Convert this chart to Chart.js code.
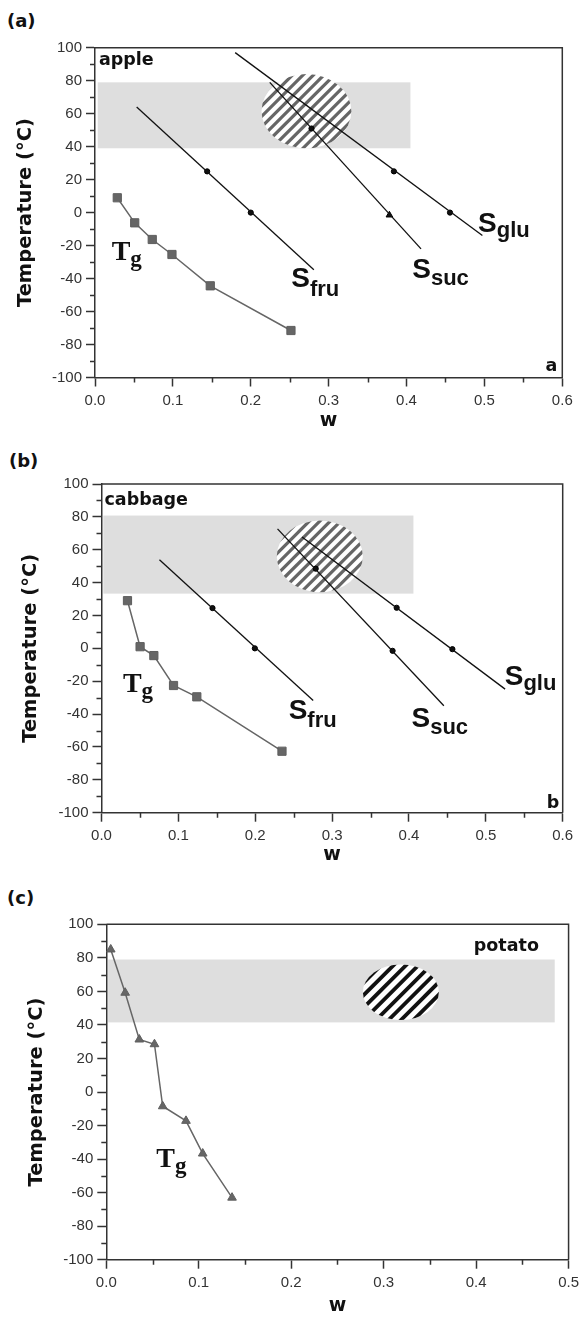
<!DOCTYPE html>
<html><head><meta charset="utf-8">
<script src="https://cdn.jsdelivr.net/npm/chart.js@4.4.1/dist/chart.umd.min.js"></script>
<style>
html,body{margin:0;padding:0;background:#fff;width:584px;height:1317px;overflow:hidden;position:relative;}
.panel{position:absolute;left:0;width:584px;}
.plabel{position:absolute;font:bold 18px "DejaVu Sans",sans-serif;line-height:18px;color:#111;}
</style></head><body>
<div class="plabel" style="left:7px;top:11.5px">(a)</div>
<div class="plabel" style="left:9px;top:451.5px">(b)</div>
<div class="plabel" style="left:7px;top:888.5px">(c)</div>
<div class="panel" style="top:0;height:440px"><canvas id="ca"></canvas></div>
<div class="panel" style="top:440px;height:440px"><canvas id="cb"></canvas></div>
<div class="panel" style="top:880px;height:437px"><canvas id="cc"></canvas></div>
<script>
// ---------- DATA ----------
// x ticks / y ticks
const xTicksAB = [0.0, 0.1, 0.2, 0.3, 0.4, 0.5, 0.6];
const xTicksC  = [0.0, 0.1, 0.2, 0.3, 0.4, 0.5];
const yTicks   = [-100, -80, -60, -40, -20, 0, 20, 40, 60, 80, 100];

// Panel (a) apple
const aTgW = [0.0286, 0.051, 0.0735, 0.0988, 0.148, 0.2516];
const aTgT = [9, -6.2, -16.3, -25.4, -44.4, -71.5];
const aFruLineW = [0.0535, 0.281];  const aFruLineT = [64.1, -34.7];
const aFruDotW  = [0.144, 0.2];     const aFruDotT  = [25, 0];
const aSucLineW = [0.2244, 0.4186]; const aSucLineT = [79, -22];
const aSucDotW  = [0.278, 0.378];   const aSucDotT  = [51, -1.5];
const aGluLineW = [0.18, 0.4974];   const aGluLineT = [97, -13.9];
const aGluDotW  = [0.3838, 0.4558]; const aGluDotT  = [25, 0];
const aBandW = [0.0035, 0.405];     const aBandT = [39, 79];
const aEllW = [0.2715, 0.0577];     const aEllT = [61.5, 22.5];   // centre, half-size

// Panel (b) cabbage
const bTgW = [0.0338, 0.0502, 0.0681, 0.0937, 0.124, 0.2348];
const bTgT = [29, 1, -4.4, -22.6, -29.5, -62.6];
const bFruLineW = [0.0754, 0.2754]; const bFruLineT = [53.9, -31.7];
const bFruDotW  = [0.1444, 0.1995]; const bFruDotT  = [24.5, 0];
const bSucLineW = [0.229, 0.4454];  const bSucLineT = [72.7, -34.9];
const bSucDotW  = [0.2787, 0.3787]; const bSucDotT  = [48.5, -1.5];
const bGluLineW = [0.2609, 0.5251]; const bGluLineT = [67.7, -24.8];
const bGluDotW  = [0.384, 0.4565];  const bGluDotT  = [24.7, -0.5];
const bBandW = [0.0024, 0.4058];    const bBandT = [33.3, 80.8];
const bEllW = [0.284, 0.056];       const bEllT = [56, 21.8];

// Panel (c) potato
const cTgW = [0.0048, 0.0204, 0.0357, 0.0521, 0.061, 0.0862, 0.1043, 0.136];
const cTgT = [85, 59.2, 31.3, 28.5, -8.5, -17.2, -36.7, -63];
const cBandW = [0.002, 0.485];      const cBandT = [41.5, 79];
const cEllW = [0.3186, 0.0411];     const cEllT = [59.5, 16.6];

// ---------- STYLE / LAYOUT ----------
const tickFont = {family: '"Liberation Sans", Arial, sans-serif', size: 15};
const titleFont = {family: '"DejaVu Sans", sans-serif', size: 19.5, weight: 'bold'};
const wFont = {family: '"DejaVu Sans", sans-serif', size: 19, weight: 'bold'};
const SFONT = 'bold 28px "Liberation Sans", Arial, sans-serif';
const SUBFONT = 'bold 22px "Liberation Sans", Arial, sans-serif';
const TFONT = 'bold 28px "Liberation Serif", serif';
const GFONT = 'bold 23px "Liberation Serif", serif';
const CFONT = 'bold 17.5px "DejaVu Sans", sans-serif';
const AXC = '#333';

function pts(ws, ts) { return ws.map((w, i) => ({x: w, y: ts[i]})); }

function sLine(ws, ts) {
  return {data: pts(ws, ts), showLine: true, borderColor: '#111', borderWidth: 1.3, pointRadius: 0};
}
function sDots(ws, ts, style) {
  return {data: pts(ws, ts), showLine: false, pointRadius: ws.map((_, i) => (style && style[i] === 'triangle') ? 3.8 : 2.6),
    pointStyle: ws.map((_, i) => (style && style[i]) || 'circle'),
    backgroundColor: '#111', borderColor: '#000', borderWidth: 1};
}
function tgSet(ws, ts, style, r) {
  return {data: pts(ws, ts), showLine: true, borderColor: '#666', borderWidth: 1.5,
    pointStyle: style, pointRadius: r, backgroundColor: '#666', pointBorderColor: '#5e5e5e', pointBorderWidth: 1};
}

const decor = {
  id: 'decor',
  beforeDatasetsDraw(chart, args, o) {
    const {ctx, scales: {x, y}} = chart;
    ctx.save();
    // grey band
    const bx0 = x.getPixelForValue(o.bandW[0]), bx1 = x.getPixelForValue(o.bandW[1]);
    const by0 = y.getPixelForValue(o.bandT[1]), by1 = y.getPixelForValue(o.bandT[0]);
    ctx.fillStyle = '#dedede';
    ctx.fillRect(bx0, by0, bx1 - bx0, by1 - by0);
    // hatched ellipse
    const cx = x.getPixelForValue(o.ellW[0]), cy = y.getPixelForValue(o.ellT[0]);
    const rx = x.getPixelForValue(o.ellW[0] + o.ellW[1]) - cx;
    const ry = cy - y.getPixelForValue(o.ellT[0] + o.ellT[1]);
    ctx.beginPath();
    ctx.ellipse(cx, cy, rx, ry, 0, 0, Math.PI * 2);
    ctx.fillStyle = '#fff';
    ctx.fill();
    ctx.clip();
    ctx.strokeStyle = o.hatchColor; ctx.lineWidth = o.hatchWidth;
    const L = rx + ry + 20;
    for (let k = -L; k <= L; k += o.hatchSpacing) {
      const ox = cx + k / Math.SQRT2, oy = cy + k / Math.SQRT2;
      ctx.beginPath();
      ctx.moveTo(ox - L, oy + L); ctx.lineTo(ox + L, oy - L);
      ctx.stroke();
    }
    ctx.restore();
  },
  afterDraw(chart, args, o) {
    const {ctx, chartArea: ca, scales: {x, y}} = chart;
    ctx.save();
    // frame (top/right)
    ctx.strokeStyle = AXC; ctx.lineWidth = 1.5;
    ctx.beginPath();
    ctx.moveTo(ca.left, ca.top); ctx.lineTo(ca.right, ca.top); ctx.lineTo(ca.right, ca.bottom);
    ctx.stroke();
    // minor ticks
    ctx.beginPath();
    for (let v = -90; v < 100; v += 20) {
      const py = Math.round(y.getPixelForValue(v)) + 0.5;
      ctx.moveTo(ca.left - 5, py); ctx.lineTo(ca.left, py);
    }
    for (let v = 0.05; v < o.xmax; v += 0.1) {
      const px = Math.round(x.getPixelForValue(v)) + 0.5;
      ctx.moveTo(px, ca.bottom); ctx.lineTo(px, ca.bottom + 5);
    }
    ctx.stroke();
    // curve labels
    ctx.fillStyle = '#111'; ctx.textAlign = 'left'; ctx.textBaseline = 'alphabetic';
    for (const lab of o.labels) {
      const px = x.getPixelForValue(lab.w), py = y.getPixelForValue(lab.t);
      ctx.font = lab.font;
      ctx.fillText(lab.main, px, py);
      if (lab.sub) {
        const mw = ctx.measureText(lab.main).width;
        ctx.font = lab.subFont;
        ctx.fillText(lab.sub, px + mw + (lab.sdx || 0), py + lab.sdy);
      }
    }
    // corner labels
    ctx.font = CFONT;
    for (const c of o.corners) {
      if (c.at === 'tl') { ctx.textAlign = 'left'; ctx.fillText(c.text, ca.left + c.dx, ca.top + c.dy); }
      else { ctx.textAlign = 'right'; ctx.fillText(c.text, ca.right - c.dx, ca.bottom - c.dy); }
    }
    ctx.restore();
  }
};

function makeChart(id, cfg) {
  const H = cfg.h;
  return new Chart(document.getElementById(id), {
    type: 'scatter',
    data: {datasets: cfg.datasets},
    options: {
      responsive: true, maintainAspectRatio: false, animation: false, events: [],
      layout: {padding: {top: cfg.T, right: 584 - cfg.R, left: 0, bottom: 0}},
      plugins: {legend: {display: false}, tooltip: {enabled: false}, decor: cfg.decor},
      scales: {
        x: {
          type: 'linear', position: 'bottom', min: 0, max: cfg.xTicks[cfg.xTicks.length - 1],
          afterFit: s => { s.height = H - cfg.B; },
          afterBuildTicks: s => { s.ticks = cfg.xTicks.map(v => ({value: v})); },
          ticks: {callback: v => Number(v).toFixed(1), font: tickFont, color: AXC, padding: 5, maxRotation: 0, autoSkip: false},
          grid: {drawOnChartArea: false, tickLength: 9, tickColor: AXC, tickWidth: 1.5},
          border: {color: AXC, width: 1.5},
          title: {display: true, text: 'w', font: wFont, color: '#111', padding: {top: 0, bottom: cfg.wPad}}
        },
        y: {
          type: 'linear', position: 'left', min: -100, max: 100,
          afterFit: s => { s.width = cfg.L; },
          afterBuildTicks: s => { s.ticks = yTicks.map(v => ({value: v})); },
          ticks: {callback: v => String(v), font: tickFont, color: AXC, padding: 4, autoSkip: false},
          grid: {drawOnChartArea: false, tickLength: 9, tickColor: AXC, tickWidth: 1.5},
          border: {color: AXC, width: 1.5},
          title: {display: true, text: 'Temperature (°C)', font: titleFont, color: '#111', padding: {top: cfg.yPad, bottom: 0}}
        }
      }
    },
    plugins: [decor]
  });
}

const hatchAB = {hatchColor: '#666', hatchWidth: 3.2, hatchSpacing: 7.4};

makeChart('ca', {
  h: 440, L: 95, R: 562.3, T: 47.7, B: 377.5, yPad: 14.4, wPad: 7.6, xTicks: xTicksAB,
  datasets: [
    tgSet(aTgW, aTgT, 'rect', 5.8),
    sLine(aFruLineW, aFruLineT), sDots(aFruDotW, aFruDotT),
    sLine(aSucLineW, aSucLineT), sDots(aSucDotW, aSucDotT, ['circle', 'triangle']),
    sLine(aGluLineW, aGluLineT), sDots(aGluDotW, aGluDotT)
  ],
  decor: Object.assign({bandW: aBandW, bandT: aBandT, ellW: aEllW, ellT: aEllT, xmax: 0.6,
    labels: [
      {main: 'T', sub: 'g', w: 0.0214, t: -28.7, font: TFONT, subFont: GFONT, sdy: 6},
      {main: 'S', sub: 'fru', w: 0.252, t: -44.9, font: SFONT, subFont: SUBFONT, sdy: 9},
      {main: 'S', sub: 'suc', w: 0.4073, t: -39.8, font: SFONT, subFont: SUBFONT, sdy: 7},
      {main: 'S', sub: 'glu', w: 0.4918, t: -11.6, font: SFONT, subFont: SUBFONT, sdy: 5}
    ],
    corners: [{text: 'apple', at: 'tl', dx: 4, dy: 17.3}, {text: 'a', at: 'br', dx: 5, dy: 7}]
  }, hatchAB)
});

makeChart('cb', {
  h: 440, L: 101.5, R: 562.7, T: 44, B: 372.7, yPad: 19, wPad: 14, xTicks: xTicksAB,
  datasets: [
    tgSet(bTgW, bTgT, 'rect', 5.8),
    sLine(bFruLineW, bFruLineT), sDots(bFruDotW, bFruDotT),
    sLine(bSucLineW, bSucLineT), sDots(bSucDotW, bSucDotT),
    sLine(bGluLineW, bGluLineT), sDots(bGluDotW, bGluDotT)
  ],
  decor: Object.assign({bandW: bBandW, bandT: bBandT, ellW: bEllW, ellT: bEllT, xmax: 0.6,
    labels: [
      {main: 'T', sub: 'g', w: 0.0279, t: -26.4, font: TFONT, subFont: GFONT, sdy: 6},
      {main: 'S', sub: 'fru', w: 0.2435, t: -43.2, font: SFONT, subFont: SUBFONT, sdy: 8},
      {main: 'S', sub: 'suc', w: 0.4033, t: -48, font: SFONT, subFont: SUBFONT, sdy: 7},
      {main: 'S', sub: 'glu', w: 0.5246, t: -22.3, font: SFONT, subFont: SUBFONT, sdy: 5}
    ],
    corners: [{text: 'cabbage', at: 'tl', dx: 3, dy: 21}, {text: 'b', at: 'br', dx: 3.5, dy: 4.5}]
  }, hatchAB)
});

makeChart('cc', {
  h: 437, L: 106.3, R: 570, T: 44.3, B: 379.7, yPad: 25.5, wPad: 0, xTicks: xTicksC,
  datasets: [
    tgSet(cTgW, cTgT, 'triangle', 5)
  ],
  decor: {bandW: cBandW, bandT: cBandT, ellW: cEllW, ellT: cEllT, xmax: 0.5,
    hatchColor: '#111', hatchWidth: 3.8, hatchSpacing: 8.8,
    labels: [
      {main: 'T', sub: 'g', w: 0.054, t: -44.5, font: TFONT, subFont: GFONT, sdy: 6},
      {main: 'potato', w: 0.3975, t: 84.3, font: CFONT}
    ],
    corners: []
  }
});
</script>
</body></html>
